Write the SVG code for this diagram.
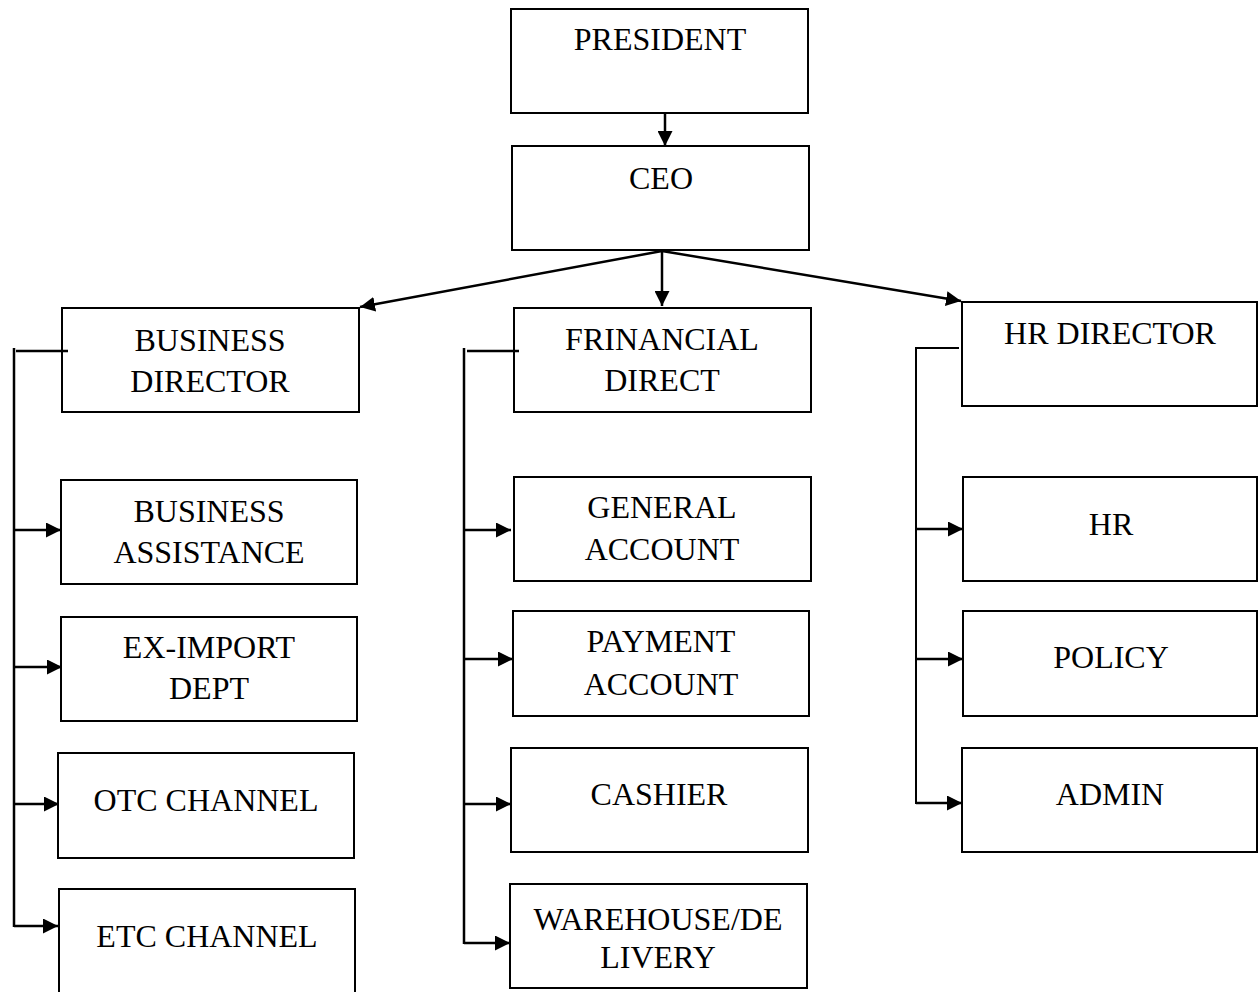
<svg xmlns="http://www.w3.org/2000/svg" width="1258" height="992" viewBox="0 0 1258 992">
<style>
.box{fill:#fff;stroke:#000;stroke-width:2}
.t{font-family:"Liberation Serif","Times New Roman",serif;font-size:32px;fill:#000;text-anchor:middle}
.c{fill:none;stroke:#000;stroke-width:2.5}
.a{fill:none;stroke:#000;stroke-width:2.5;marker-end:url(#ah)}
</style>
<defs>
<marker id="ah" markerUnits="userSpaceOnUse" markerWidth="16" markerHeight="15" refX="15" refY="7.5" orient="auto" viewBox="0 0 16 15">
<path d="M0,0 L15,7.5 L0,15 z" fill="#000"/>
</marker>
</defs>
<rect width="1258" height="992" fill="#fff"/>
<g id="president"><rect class="box" x="511" y="9" width="297" height="104"/><text class="t" x="660" y="50">PRESIDENT</text></g>
<g id="ceo"><rect class="box" x="512" y="146" width="297" height="104"/><text class="t" x="661" y="189">CEO</text></g>
<g id="business-director"><rect class="box" x="62" y="308" width="297" height="104"/><text class="t" x="210" y="351">BUSINESS</text><text class="t" x="210" y="392">DIRECTOR</text></g>
<g id="financial-direct"><rect class="box" x="514" y="308" width="297" height="104"/><text class="t" x="662" y="350">FRINANCIAL</text><text class="t" x="662" y="391">DIRECT</text></g>
<g id="hr-director"><rect class="box" x="962" y="302" width="295" height="104"/><text class="t" x="1110" y="344">HR DIRECTOR</text></g>
<g id="business-assistance"><rect class="box" x="61" y="480" width="296" height="104"/><text class="t" x="209" y="522">BUSINESS</text><text class="t" x="209" y="563">ASSISTANCE</text></g>
<g id="ex-import"><rect class="box" x="61" y="617" width="296" height="104"/><text class="t" x="209" y="658">EX-IMPORT</text><text class="t" x="209" y="699">DEPT</text></g>
<g id="otc"><rect class="box" x="58" y="753" width="296" height="105"/><text class="t" x="206" y="811">OTC CHANNEL</text></g>
<g id="etc"><rect class="box" x="59" y="889" width="296" height="110"/><text class="t" x="207" y="947">ETC CHANNEL</text></g>
<g id="general-account"><rect class="box" x="514" y="477" width="297" height="104"/><text class="t" x="662" y="518">GENERAL</text><text class="t" x="662" y="560">ACCOUNT</text></g>
<g id="payment-account"><rect class="box" x="513" y="611" width="296" height="105"/><text class="t" x="661" y="652">PAYMENT</text><text class="t" x="661" y="695">ACCOUNT</text></g>
<g id="cashier"><rect class="box" x="511" y="748" width="297" height="104"/><text class="t" x="659" y="805">CASHIER</text></g>
<g id="warehouse"><rect class="box" x="510" y="884" width="297" height="104"/><text class="t" x="658" y="930">WAREHOUSE/DE</text><text class="t" x="658" y="968">LIVERY</text></g>
<g id="hr"><rect class="box" x="963" y="477" width="294" height="104"/><text class="t" x="1111" y="535">HR</text></g>
<g id="policy"><rect class="box" x="963" y="611" width="294" height="105"/><text class="t" x="1111" y="668">POLICY</text></g>
<g id="admin"><rect class="box" x="962" y="748" width="295" height="104"/><text class="t" x="1110" y="805">ADMIN</text></g>
<g id="connectors">
<line class="a" x1="665" y1="113" x2="665" y2="146"/>
<line class="a" x1="662" y1="251" x2="360" y2="307"/>
<line class="a" x1="662" y1="251" x2="662" y2="306"/>
<line class="a" x1="662" y1="251" x2="961" y2="301"/>
<line class="c" x1="14" y1="348" x2="14" y2="927"/>
<line class="c" x1="16" y1="351" x2="68" y2="351"/>
<line class="a" x1="14" y1="530" x2="61" y2="530"/>
<line class="a" x1="14" y1="667" x2="62" y2="667"/>
<line class="a" x1="14" y1="804" x2="59" y2="804"/>
<line class="a" x1="14" y1="926" x2="58" y2="926"/>
<line class="c" x1="464" y1="348" x2="464" y2="944"/>
<line class="c" x1="467" y1="351" x2="519" y2="351"/>
<line class="a" x1="464" y1="530" x2="511" y2="530"/>
<line class="a" x1="464" y1="659" x2="513" y2="659"/>
<line class="a" x1="464" y1="804" x2="511" y2="804"/>
<line class="a" x1="464" y1="943" x2="510" y2="943"/>
<line class="c" x1="916" y1="347" x2="916" y2="804" style="stroke-width:2"/>
<line class="c" x1="916" y1="348" x2="959" y2="348" style="stroke-width:2"/>
<line class="a" x1="916" y1="529" x2="963" y2="529"/>
<line class="a" x1="916" y1="659" x2="963" y2="659"/>
<line class="a" x1="916" y1="803" x2="962" y2="803"/>
</g>
</svg>
